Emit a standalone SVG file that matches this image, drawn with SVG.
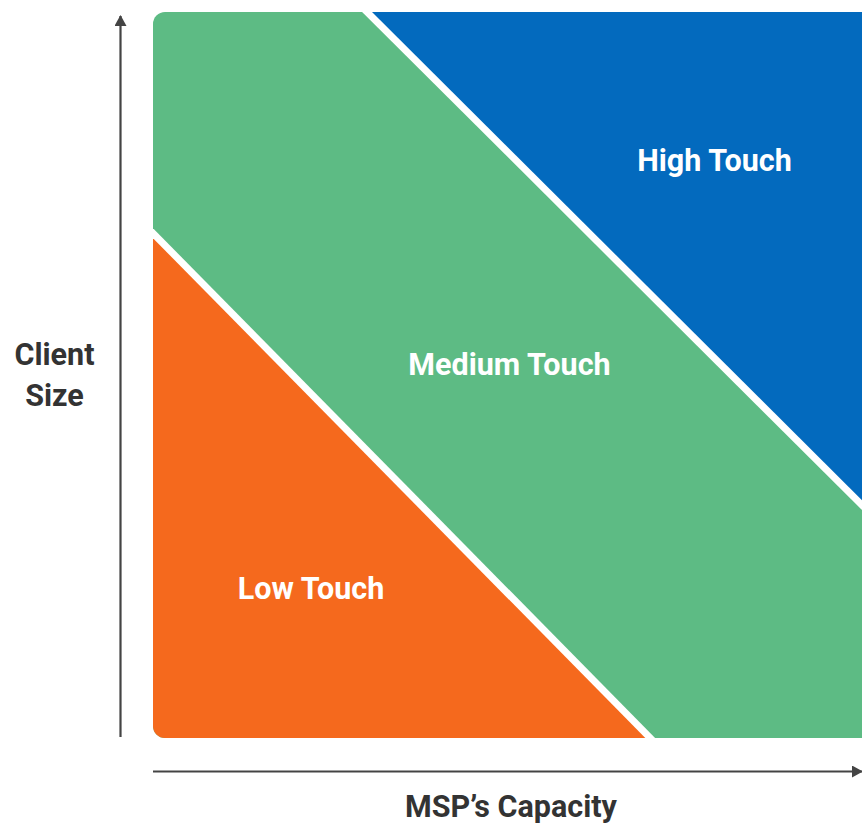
<svg xmlns="http://www.w3.org/2000/svg" width="862" height="825" viewBox="0 0 862 825">
<defs>
<style>
.zone{font-family:Roboto,"Liberation Sans",sans-serif;font-weight:bold;font-size:30.5px;fill:#ffffff;text-anchor:middle}
.axis-label{font-family:Roboto,"Liberation Sans",sans-serif;font-weight:bold;font-size:30.5px;fill:#333333;text-anchor:middle}
.axis{stroke:#444444;stroke-width:2.2;fill:none}
.sep{stroke:#ffffff;stroke-width:7;fill:none}
</style>
<clipPath id="area">
<rect x="153" y="12" width="730" height="726" rx="12" ry="12"/>
</clipPath>
<marker id="arrow" viewBox="0 0 12 12" refX="10" refY="6" markerWidth="12" markerHeight="12" markerUnits="userSpaceOnUse" orient="auto">
<path d="M0,0 L11,6 L0,12 Z" fill="#444444"/>
</marker>
</defs>
<g clip-path="url(#area)">
<g id="medium">
<rect x="153" y="12" width="730" height="726" fill="#5DBB84"/>
</g>
<g id="low">
<polygon points="153,233 650,738 153,738" fill="#F5691D"/>
</g>
<g id="high">
<polygon points="367,12 883,12 883,526" fill="#036ABE"/>
</g>
<path class="sep" d="M140,220 L665,753"/>
<path class="sep" d="M355,0 L890,533"/>
</g>
<text class="zone" x="714.5" y="171">High Touch</text>
<text class="zone" x="509.5" y="375">Medium Touch</text>
<text class="zone" x="311" y="599">Low Touch</text>
<g id="connectors">
<line class="axis" x1="120.5" y1="737" x2="120.5" y2="16" marker-end="url(#arrow)"/>
<line class="axis" x1="153" y1="771.5" x2="862" y2="771.5" marker-end="url(#arrow)"/>
</g>
<text class="axis-label" x="54.5" y="365">Client</text>
<text class="axis-label" x="54.5" y="406">Size</text>
<text class="axis-label" x="511" y="817" font-size="31">MSP’s Capacity</text>
</svg>
